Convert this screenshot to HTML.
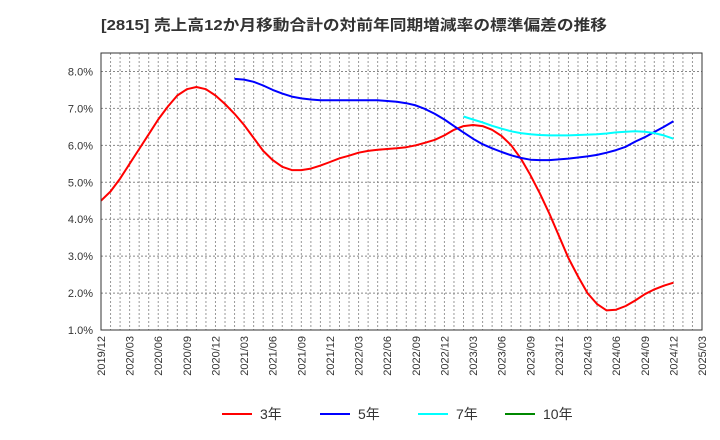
<!DOCTYPE html>
<html><head><meta charset="utf-8"><style>
body{margin:0;background:#fff;}
svg{display:block;font-family:"Liberation Sans","Noto Sans CJK JP",sans-serif;}
</style></head><body>
<svg id="c" width="720" height="440" viewBox="0 0 720 440">
<text x="101" y="30" font-size="15" font-weight="bold" fill="#333" textLength="506" lengthAdjust="spacingAndGlyphs">[2815]  売上高12か月移動合計の対前年同期増減率の標準偏差の推移</text>
<g id="grid"></g><g id="axes"></g><g id="series"></g>
<rect x="101" y="53" width="601" height="277" fill="none" stroke="#333" stroke-width="1"/>
<g>
<line x1="222" y1="414" x2="252" y2="414" stroke="#f00" stroke-width="2"/>
<text x="260" y="419" font-size="14" fill="#333">3年</text>
<line x1="320" y1="414" x2="350" y2="414" stroke="#00f" stroke-width="2"/>
<text x="358" y="419" font-size="14" fill="#333">5年</text>
<line x1="418" y1="414" x2="448" y2="414" stroke="#0ff" stroke-width="2"/>
<text x="456" y="419" font-size="14" fill="#333">7年</text>
<line x1="505" y1="414" x2="535" y2="414" stroke="#080" stroke-width="2"/>
<text x="543" y="419" font-size="14" fill="#333">10年</text>
</g>
</svg>
<script>
const yTicks=[1,2,3,4,5,6,7,8];
const xTickLabels=["2019/12","2020/03","2020/06","2020/09","2020/12","2021/03","2021/06","2021/09","2021/12","2022/03","2022/06","2022/09","2022/12","2023/03","2023/06","2023/09","2023/12","2024/03","2024/06","2024/09","2024/12","2025/03"];
const s3=[4.5,4.75,5.1,5.5,5.9,6.3,6.7,7.05,7.35,7.52,7.58,7.52,7.35,7.12,6.85,6.55,6.2,5.85,5.6,5.42,5.33,5.33,5.37,5.45,5.55,5.65,5.72,5.8,5.85,5.88,5.9,5.92,5.95,6.0,6.07,6.15,6.27,6.42,6.52,6.55,6.52,6.42,6.25,6.0,5.65,5.2,4.7,4.15,3.55,2.95,2.45,2.0,1.7,1.53,1.55,1.65,1.8,1.97,2.1,2.2,2.28];
const s5start=14;
const s5=[7.8,7.78,7.72,7.62,7.5,7.4,7.32,7.27,7.24,7.22,7.22,7.22,7.22,7.22,7.22,7.22,7.2,7.18,7.14,7.08,6.98,6.85,6.7,6.52,6.35,6.18,6.03,5.92,5.82,5.73,5.66,5.61,5.6,5.6,5.62,5.64,5.67,5.7,5.74,5.8,5.87,5.96,6.1,6.22,6.36,6.5,6.65];
const s7start=38;
const s7=[6.78,6.7,6.62,6.53,6.45,6.38,6.33,6.3,6.28,6.27,6.27,6.27,6.28,6.29,6.3,6.32,6.35,6.37,6.38,6.37,6.33,6.27,6.18];
const NS="http://www.w3.org/2000/svg";
const X0=101,X1=702,Y0=53,Y1=330,months=63,yMin=1,yMax=8.5;
const xs=m=>X0+(X1-X0)*m/months;
const ys=v=>Y1-(Y1-Y0)*(v-yMin)/(yMax-yMin);
const grid=document.getElementById('grid'),axes=document.getElementById('axes'),ser=document.getElementById('series');
function mk(t,a,p){const e=document.createElementNS(NS,t);for(const k in a)e.setAttribute(k,a[k]);p.appendChild(e);return e;}
for(let m=1;m<months;m++){
 const l=mk('line',{x1:xs(m),x2:xs(m),y1:Y0,y2:Y1,stroke:'#999','stroke-dasharray':'2,2','stroke-width':1},grid);
 
 
}
yTicks.forEach(v=>{
 const l=mk('line',{x1:X0,x2:X1,y1:ys(v),y2:ys(v),stroke:'#888','stroke-dasharray':'2,2','stroke-width':1},grid);
 
 
 const t=mk('text',{x:93,y:ys(v)+4,'text-anchor':'end','font-size':11,fill:'#333'},axes);
 t.textContent=v.toFixed(1)+'%';
 
 
});
xTickLabels.forEach((s,i)=>{
 const x=xs(i*3);
 const t=mk('text',{x:0,y:0,transform:`translate(${x+4},336) rotate(-90)`,'text-anchor':'end','font-size':11,fill:'#333'},axes);
 t.textContent=s;
 
 
});
function draw(arr,start,color,name){
 const pts=arr.map((v,i)=>xs(start+i).toFixed(1)+','+ys(v).toFixed(1)).join(' ');
 const p=mk('polyline',{points:pts,fill:'none',stroke:color,'stroke-width':2,'stroke-linejoin':'round'},ser);
 
 
}
draw(s3,0,'#f00','series-3y');
draw(s5,s5start,'#00f','series-5y');
draw(s7,s7start,'#0ff','series-7y');
</script>
</body></html>
